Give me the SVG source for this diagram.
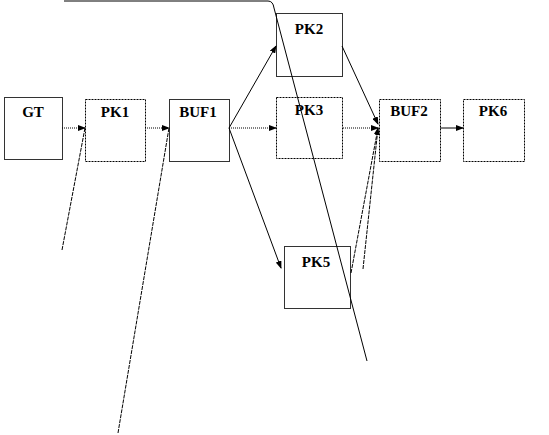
<svg xmlns="http://www.w3.org/2000/svg" width="549" height="435" viewBox="0 0 549 435">
<style>
.box{fill:#fff;stroke:#333;stroke-width:1}
.dot{stroke:#000;stroke-dasharray:2,1}
.lbl{font-family:"Liberation Serif",serif;font-weight:bold;font-size:15px;text-anchor:middle;fill:#000}
.c{fill:none;stroke:#000;stroke-width:1}
.d{stroke-dasharray:1,1}
.ds{stroke-dasharray:4,1}
</style>
<defs>
<marker id="ah" markerWidth="8" markerHeight="6" refX="7" refY="3" orient="auto" markerUnits="userSpaceOnUse">
<path d="M0,0 L8,3 L0,6 z" fill="#000"/>
</marker>
</defs>
<rect width="549" height="435" fill="#fff"/>
<g id="GT"><rect class="box" x="4.5" y="97.5" width="58" height="62"/><text class="lbl" x="33" y="117">GT</text></g>
<g id="PK1"><rect class="box dot" x="85.5" y="99.5" width="60" height="62"/><text class="lbl" x="115" y="117">PK1</text></g>
<g id="BUF1"><rect class="box" x="169.5" y="99.5" width="60" height="62"/><text class="lbl" x="198" y="117">BUF1</text></g>
<g id="PK2"><rect class="box" x="276.5" y="13.5" width="66" height="63"/><text class="lbl" x="309" y="34">PK2</text></g>
<g id="PK3"><rect class="box dot" x="276.5" y="97.5" width="66" height="61"/><text class="lbl" x="309" y="115">PK3</text></g>
<g id="BUF2"><rect class="box dot" x="379.5" y="99.5" width="61" height="62"/><text class="lbl" x="409" y="116">BUF2</text></g>
<g id="PK6"><rect class="box dot" x="463.5" y="99.5" width="61" height="62"/><text class="lbl" x="493" y="116">PK6</text></g>
<g id="PK5"><rect class="box" x="284.5" y="246.5" width="66" height="62"/><text class="lbl" x="316" y="267">PK5</text></g>
<g id="connectors">
<line class="c d" x1="62" y1="128" x2="85" y2="128" marker-end="url(#ah)"/>
<line class="c d" x1="145" y1="128" x2="169" y2="128" marker-end="url(#ah)"/>
<line class="c" x1="229" y1="128" x2="276" y2="46" marker-end="url(#ah)"/>
<line class="c d" x1="229" y1="128" x2="276" y2="128" marker-end="url(#ah)"/>
<line class="c" x1="229" y1="128" x2="281" y2="268" marker-end="url(#ah)"/>
<line class="c" x1="342" y1="46" x2="378" y2="124" marker-end="url(#ah)"/>
<line class="c d" x1="343" y1="128" x2="378" y2="128" marker-end="url(#ah)"/>
<line class="c" x1="440" y1="128" x2="463" y2="128" marker-end="url(#ah)"/>
<line class="c ds" x1="351" y1="273" x2="378" y2="128" marker-end="url(#ah)"/>
<line class="c ds" x1="363" y1="269" x2="378" y2="128"/>
<line class="c ds" x1="62" y1="250" x2="85" y2="128"/>
<line class="c ds" x1="118" y1="433" x2="169" y2="128"/>
<path class="c" d="M64,1 H268 Q273,1 274,8 L367,361"/>
</g>
</svg>
